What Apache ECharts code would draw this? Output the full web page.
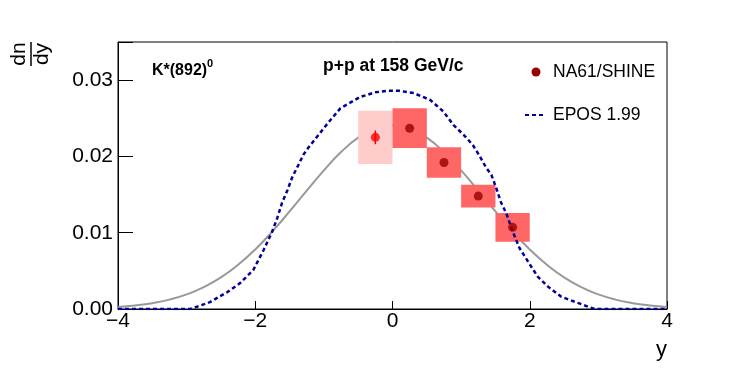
<!DOCTYPE html>
<html><head><meta charset="utf-8">
<script src="https://cdn.jsdelivr.net/npm/echarts/dist/echarts.min.js"></script>
<style>html,body{margin:0;padding:0;background:#fff}#c{width:747px;height:390px}</style>
</head><body><div id="c"></div>
<script>
// ---- data ----
const xTicks = [-4, -2, 0, 2, 4];
const yTicks = [0, 0.01, 0.02, 0.03];
const na61X = [0.25, 0.75, 1.25, 1.75];
const na61Y = [0.0237, 0.0192, 0.0148, 0.0107];
const na61Sys = [0.0026, 0.0020, 0.0015, 0.0019];
const reflX = [-0.25];
const reflY = [0.0225];
const reflSys = [0.0035];
const reflStat = [0.0009];
const binHalfWidth = [0.25, 0.25, 0.25, 0.25];
const eposX = [-4, -2.95, -2.85, -2.66, -2.41, -2.22, -2.03, -1.88, -1.76, -1.68, -1.61, -1.53, -1.46, -1.37, -1.30, -1.23, -1.08, -0.93, -0.76, -0.47, -0.25, -0.08, 0.10, 0.31, 0.55, 0.74, 0.89, 1.04, 1.17, 1.26, 1.36, 1.44, 1.51, 1.58, 1.66, 1.75, 1.85, 1.99, 2.12, 2.27, 2.46, 2.70, 2.85, 2.95, 4];
const eposY = [0, 0, 0.0003, 0.0009, 0.0022, 0.0034, 0.0051, 0.0077, 0.0100, 0.0119, 0.0139, 0.0156, 0.0173, 0.0189, 0.0202, 0.0211, 0.0228, 0.0245, 0.0263, 0.0278, 0.0284, 0.0286, 0.0286, 0.0283, 0.0274, 0.0259, 0.0241, 0.0228, 0.0215, 0.0202, 0.0186, 0.0176, 0.0159, 0.0140, 0.0125, 0.0102, 0.0080, 0.0060, 0.0042, 0.0029, 0.0016, 0.0008, 0.0003, 0, 0];
const fitX = [-4, -3.75, -3.5, -3.25, -3, -2.75, -2.5, -2.25, -2, -1.75, -1.5, -1.25, -1, -0.75, -0.5, -0.25, 0, 0.25, 0.5, 0.75, 1, 1.25, 1.5, 1.75, 2, 2.25, 2.5, 2.75, 3, 3.25, 3.5, 3.75, 4];
const fitY = [0.00027, 0.00046, 0.00076, 0.00123, 0.00191, 0.00286, 0.00414, 0.00579, 0.00781, 0.01017, 0.01279, 0.01552, 0.01818, 0.02057, 0.02246, 0.02368, 0.0241, 0.02368, 0.02246, 0.02057, 0.01818, 0.01552, 0.01279, 0.01017, 0.00781, 0.00579, 0.00414, 0.00286, 0.00191, 0.00123, 0.00076, 0.00046, 0.00027];

const FONT = '"Liberation Sans", Arial, Helvetica, sans-serif';
const chart = echarts.init(document.getElementById('c'), null, {renderer: 'canvas'});

const boxData = na61X.map((x, i) => [x, binHalfWidth[i], na61Y[i], na61Sys[i]]);
const reflBoxData = reflX.map((x, i) => [x, 0.25, reflY[i], reflSys[i]]);
const reflErrData = reflX.map((x, i) => [x, reflY[i], reflStat[i]]);

function boxRender(color) {
  return function (params, api) {
    const x = api.value(0), hw = api.value(1), y = api.value(2), e = api.value(3);
    const p1 = api.coord([x - hw, y + e]);
    const p2 = api.coord([x + hw, y - e]);
    return {type: 'rect', shape: {x: p1[0], y: p1[1], width: p2[0] - p1[0], height: p2[1] - p1[1]},
      style: {fill: color}};
  };
}

const option = {
  animation: false,
  backgroundColor: '#fff',
  grid: {left: 118, right: 80, top: 42, bottom: 81, show: true, borderColor: '#000', borderWidth: 1},
  xAxis: {
    type: 'value', min: xTicks[0], max: xTicks[xTicks.length - 1], interval: 2,
    axisLine: {show: true, onZero: false, lineStyle: {color: '#000', width: 1}},
    axisTick: {show: true, inside: true, length: 8, lineStyle: {color: '#000'}},
    splitLine: {show: false},
    axisLabel: {color: '#000', fontFamily: FONT, fontSize: 21, margin: 2,
      formatter: v => (v < 0 ? '\u2212' + (-v) : String(v))}
  },
  yAxis: {
    type: 'value', min: 0, max: 0.035, interval: 0.01,
    axisLine: {show: true, onZero: false, lineStyle: {color: '#000', width: 1}},
    axisTick: {show: true, inside: true, length: 15, lineStyle: {color: '#000'}},
    splitLine: {show: false},
    axisLabel: {color: '#000', fontFamily: FONT, fontSize: 21, margin: 5,
      formatter: v => {
        const ok = yTicks.some(t => Math.abs(t - v) < 1e-9);
        return ok ? v.toFixed(2) : '';
      }}
  },
  series: [
    {type: 'line', name: 'fit', data: fitX.map((x, i) => [x, fitY[i]]), smooth: true, symbol: 'none',
      lineStyle: {color: '#999999', width: 2}, z: 1},
    {type: 'custom', name: 'reflsys', data: reflBoxData, renderItem: boxRender('#ffcccc'), z: 2},
    {type: 'custom', name: 'sys', data: boxData, renderItem: boxRender('#ff6666'), z: 2},
    {type: 'line', name: 'EPOS 1.99', data: eposX.map((x, i) => [x, eposY[i]]), symbol: 'none',
      lineStyle: {color: '#000099', width: 2.5, type: [4, 3]}, z: 3},
    {type: 'custom', name: 'reflstat', data: reflErrData, z: 4,
      renderItem: (params, api) => {
        const x = api.value(0), y = api.value(1), e = api.value(2);
        const a = api.coord([x, y + e]), b = api.coord([x, y - e]);
        return {type: 'line', shape: {x1: a[0], y1: a[1], x2: b[0], y2: b[1]}, style: {stroke: '#ff0000', lineWidth: 1.5}};
      }},
    {type: 'scatter', name: 'refl', data: reflX.map((x, i) => [x, reflY[i]]), symbol: 'circle', symbolSize: 9,
      itemStyle: {color: '#ff0000'}, z: 5},
    {type: 'scatter', name: 'NA61/SHINE', data: na61X.map((x, i) => [x, na61Y[i]]), symbol: 'circle', symbolSize: 9,
      itemStyle: {color: '#990000'}, z: 5}
  ],
  graphic: [
    {type: 'group', x: 31, y: 54, rotation: Math.PI / 2, children: [
      {type: 'text', x: 0, y: -1, style: {text: 'dn', font: '21px ' + FONT, fill: '#000', textAlign: 'center', textVerticalAlign: 'bottom'}},
      {type: 'line', shape: {x1: -12, y1: 0, x2: 12, y2: 0}, style: {stroke: '#000', lineWidth: 1.5}},
      {type: 'text', x: 0, y: 1, style: {text: 'dy', font: '21px ' + FONT, fill: '#000', textAlign: 'center', textVerticalAlign: 'top'}}
    ]},
    {type: 'text', x: 152, y: 71, style: {text: 'K*(892)', font: 'bold 16px ' + FONT, fill: '#000', textVerticalAlign: 'middle'}},
    {type: 'text', x: 207, y: 64, style: {text: '0', font: 'bold 11px ' + FONT, fill: '#000', textVerticalAlign: 'middle'}},
    {type: 'text', x: 323, y: 66, style: {text: 'p+p at 158 GeV/c', font: 'bold 17.5px ' + FONT, fill: '#000', textVerticalAlign: 'middle'}},
    {type: 'circle', shape: {cx: 536, cy: 72, r: 4.5}, style: {fill: '#990000'}},
    {type: 'text', x: 553, y: 72, style: {text: 'NA61/SHINE', font: '17.5px ' + FONT, fill: '#000', textVerticalAlign: 'middle'}},
    {type: 'line', shape: {x1: 525, y1: 115, x2: 546, y2: 115}, style: {stroke: '#000099', lineWidth: 2, lineDash: [4, 3]}},
    {type: 'text', x: 553, y: 115, style: {text: 'EPOS 1.99', font: '17.5px ' + FONT, fill: '#000', textVerticalAlign: 'middle'}},
    {type: 'text', x: 667, y: 350, style: {text: 'y', font: '22px ' + FONT, fill: '#000', textAlign: 'right', textVerticalAlign: 'middle'}}
  ]
};
chart.setOption(option);
</script>
</body></html>
